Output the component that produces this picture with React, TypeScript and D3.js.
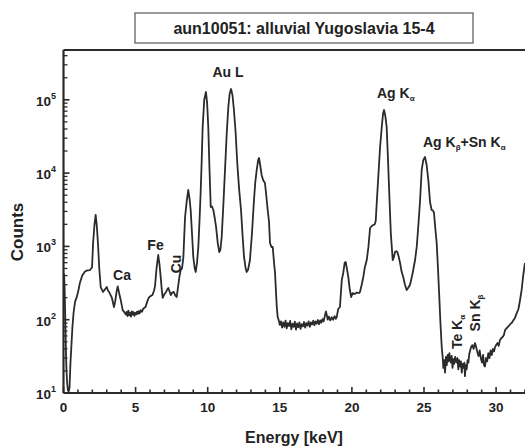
import * as d3 from "d3";

// spectrum: energy in keV, counts
const energy = [
  0.0, 0.04, 0.08, 0.12, 0.16, 0.2, 0.25, 0.3, 0.36, 0.42, 0.48, 0.55, 0.62, 0.7, 0.8, 0.94, 1.05, 1.14, 1.3, 1.49,
  1.65, 1.84, 1.98, 2.05, 2.15, 2.23, 2.31, 2.39, 2.48, 2.58, 2.74, 2.88, 3.0, 3.08, 3.16, 3.25, 3.36, 3.5, 3.58, 3.68,
  3.76, 3.86, 3.97, 4.1, 4.2, 4.26, 4.32, 4.38, 4.44, 4.5, 4.56, 4.62, 4.68, 4.74, 4.8, 4.86, 4.92, 4.98, 5.04, 5.1,
  5.16, 5.22, 5.28, 5.36, 5.44, 5.52, 5.6, 5.69, 5.8, 5.9, 6.03, 6.17, 6.28, 6.35, 6.45, 6.57, 6.66, 6.74, 6.82, 6.88,
  6.98, 7.11, 7.2, 7.27, 7.36, 7.44, 7.54, 7.64, 7.75, 7.85, 7.96, 8.05, 8.13, 8.22, 8.31, 8.43, 8.55, 8.65, 8.74, 8.82,
  8.92, 9.0, 9.1, 9.17, 9.26, 9.35, 9.43, 9.51, 9.58, 9.65, 9.76, 9.88, 9.96, 10.04, 10.12, 10.21, 10.3, 10.39, 10.48, 10.58,
  10.7, 10.8, 10.88, 10.97, 11.08, 11.2, 11.32, 11.43, 11.52, 11.62, 11.72, 11.82, 11.94, 12.05, 12.18, 12.31, 12.42, 12.52, 12.62, 12.7,
  12.8, 12.93, 13.07, 13.21, 13.3, 13.4, 13.5, 13.56, 13.65, 13.74, 13.85, 13.97, 14.06, 14.16, 14.25, 14.32, 14.42, 14.51, 14.6, 14.67,
  14.73, 14.79, 14.85, 14.92, 15.0, 15.08, 15.16, 15.24, 15.32, 15.4, 15.48, 15.56, 15.64, 15.72, 15.8, 15.88, 15.96, 16.04, 16.12, 16.2,
  16.28, 16.36, 16.44, 16.52, 16.6, 16.68, 16.76, 16.84, 16.92, 17.0, 17.08, 17.16, 17.24, 17.32, 17.4, 17.48, 17.56, 17.64, 17.72, 17.8,
  17.88, 17.96, 18.04, 18.12, 18.2, 18.25, 18.32, 18.4, 18.5, 18.6, 18.7, 18.8, 18.88, 18.95, 19.05, 19.17, 19.3, 19.4, 19.5, 19.57,
  19.65, 19.75, 19.85, 19.95, 20.05, 20.2, 20.35, 20.5, 20.56, 20.68, 20.79, 20.9, 21.03, 21.15, 21.26, 21.38, 21.48, 21.58, 21.65, 21.74,
  21.83, 21.95, 22.07, 22.16, 22.23, 22.32, 22.41, 22.5, 22.59, 22.7, 22.83, 22.9, 22.99, 23.07, 23.15, 23.25, 23.34, 23.45, 23.56, 23.68,
  23.8, 23.92, 24.03, 24.2, 24.38, 24.5, 24.6, 24.72, 24.84, 24.95, 25.07, 25.18, 25.3, 25.42, 25.53, 25.61, 25.69, 25.78, 25.88, 25.97,
  26.06, 26.14, 26.23, 26.3, 26.34, 26.4, 26.46, 26.52, 26.58, 26.64, 26.7, 26.76, 26.8, 26.86, 26.92, 26.98, 27.04, 27.1, 27.16, 27.22,
  27.27, 27.32, 27.38, 27.44, 27.5, 27.56, 27.62, 27.68, 27.74, 27.8, 27.84, 27.9, 27.96, 28.02, 28.08, 28.14, 28.2, 28.28, 28.36, 28.44,
  28.54, 28.62, 28.7, 28.78, 28.86, 28.94, 29.02, 29.1, 29.16, 29.23, 29.3, 29.38, 29.46, 29.54, 29.62, 29.7, 29.78, 29.86, 29.92, 30.0,
  30.1, 30.18, 30.27, 30.36, 30.45, 30.54, 30.62, 30.72, 30.82, 30.92, 31.0, 31.08, 31.2, 31.3, 31.43, 31.55, 31.65, 31.77, 31.88, 32.0,
];
const counts = [
  380, 420, 260, 110, 45, 22, 14, 11, 10.5, 12, 25, 45, 80, 125, 175, 210, 260, 320, 400, 455,
  470, 476, 520, 1100, 2000, 2700, 1900, 1100, 500, 279, 239, 260, 279, 250, 239, 220, 198, 149, 175, 240,
  285, 230, 186, 136, 128, 123, 118, 128, 112, 133, 115, 125, 110, 130, 117, 127, 113, 124, 118, 129,
  120, 131, 122, 135, 128, 140, 145, 149, 175, 198, 210, 217, 250, 288, 500, 763, 560, 383, 250, 198,
  220, 239, 260, 271, 240, 217, 235, 239, 215, 204, 297, 400, 476, 500, 700, 2518, 4200, 5880, 4500, 3139,
  1400, 717, 500, 448, 600, 982, 2200, 5350, 14000, 42600, 100000, 127700, 90000, 42600, 12000, 3450, 3500, 3139, 2500, 1840,
  1100, 839, 900, 1343, 3500, 11030, 35000, 79800, 120000, 140400, 115000, 72600, 35000, 13740, 6000, 3139, 1400, 717, 520, 448,
  480, 652, 1500, 4300, 7500, 11030, 15000, 16070, 12500, 9420, 8000, 7330, 5000, 3139, 2200, 1113, 982, 982, 600, 434,
  250, 150, 110, 99, 85, 95, 78, 92, 80, 97, 76, 90, 82, 96, 74, 88, 80, 94, 73, 89,
  79, 92, 75, 87, 81, 93, 78, 90, 83, 95, 80, 92, 86, 97, 84, 95, 88, 99, 87, 98,
  91, 102, 95, 112, 130, 118, 100, 110, 98, 108, 100, 112, 103, 109, 140, 149, 350, 434, 600, 612,
  500, 383, 260, 204, 230, 225, 235, 231, 239, 300, 383, 520, 652, 1000, 1782, 1900, 1959, 2000, 2200, 4500,
  8850, 22000, 42600, 65000, 72600, 60000, 42600, 16000, 5350, 1500, 652, 700, 839, 860, 839, 720, 594, 450, 383, 300,
  254, 275, 300, 420, 652, 1000, 1840, 4000, 11030, 15000, 16600, 13000, 8050, 4000, 3139, 3100, 2900, 1800, 1113, 500,
  204, 90, 42, 30, 22, 28, 19, 31, 24, 33, 27, 35, 30, 26, 32, 22, 29, 25, 31, 27,
  26, 30, 21, 28, 23, 27, 19, 25, 22, 26, 17, 24, 21, 28, 26, 34, 38, 43, 45, 40,
  48, 42, 36, 32, 38, 30, 26, 33, 24, 23, 30, 27, 35, 30, 38, 33, 40, 37, 42, 45,
  48, 44, 53, 56, 58, 62, 72, 76, 80, 84, 88, 90, 98, 105, 123, 140, 180, 254, 400, 594,
];

const xMajorTicks = [0, 5, 10, 15, 20, 25, 30];
const yDecades = [1, 2, 3, 4, 5];

const W = 525;
const H = 446;
const left = 63.5;
const top = 50;
const bottom = 393;
const FONT = "Arial, 'Liberation Sans', sans-serif";
const INK = "#2b2b2b";

export default function App() {
  const x = d3.scaleLinear().domain([0, 32]).range([left, left + 32 * 14.42]);
  const y = d3.scaleLog().domain([10, Math.pow(10, 1 + (bottom - top) / 73.3)]).range([bottom, top]);

  const pts = energy.map((e, i) => [e, counts[i]] as [number, number]);
  const line = d3
    .line<[number, number]>()
    .x((d) => x(d[0]))
    .y((d) => y(Math.max(d[1], 1)));

  const xMinor = d3.range(0, 33, 1).filter((v) => !xMajorTicks.includes(v));
  const yMinor: number[] = [];
  yDecades.forEach((p) => {
    for (let m = 2; m <= 9; m++) {
      const v = m * Math.pow(10, p);
      if (v <= y.domain()[1]) yMinor.push(v);
    }
  });

  return (
    <svg width={W} height={H} style={{ position: "absolute", left: 0, top: 0, background: "#fff" }} fontFamily={FONT}>
      <defs>
        <clipPath id="plot">
          <rect x={left} y={top} width={W - left} height={bottom - top} />
        </clipPath>
      </defs>

      {/* title box */}
      <rect x={135} y={13} width={338} height={30} fill="#fff" stroke="#555" strokeWidth={1.2} />
      <text x={304} y={34} textAnchor="middle" fontSize={16} fontWeight="bold" fill="#222">
        aun10051: alluvial Yugoslavia 15-4
      </text>

      {/* spectrum */}
      <path d={line(pts) ?? ""} fill="none" stroke={INK} strokeWidth={1.8} clipPath="url(#plot)" strokeLinejoin="round" />

      {/* frame */}
      <line x1={left} x2={W} y1={top} y2={top} stroke={INK} strokeWidth={2.2} />
      <line x1={left} x2={left} y1={top} y2={bottom} stroke={INK} strokeWidth={2.2} />
      <line x1={left} x2={W} y1={bottom} y2={bottom} stroke={INK} strokeWidth={2.2} />

      {/* x ticks */}
      {xMajorTicks.map((t) => (
        <g key={"xm" + t}>
          <line x1={x(t)} x2={x(t)} y1={bottom} y2={bottom - 6} stroke={INK} strokeWidth={1.6} />
          <text x={x(t)} y={412} textAnchor="middle" fontSize={13.5} fontWeight="bold" fill="#222">
            {t}
          </text>
        </g>
      ))}
      {xMinor.map((t) => (
        <line key={"xn" + t} x1={x(t)} x2={x(t)} y1={bottom} y2={bottom - 3.5} stroke={INK} strokeWidth={1.6} />
      ))}

      {/* y ticks */}
      {yDecades.map((p) => (
        <g key={"yd" + p}>
          <line x1={left} x2={left + 6} y1={y(Math.pow(10, p))} y2={y(Math.pow(10, p))} stroke={INK} strokeWidth={1.6} />
          <text x={56} y={y(Math.pow(10, p)) + 6} textAnchor="end" fontSize={13.5} fontWeight="bold" fill="#222">
            10
            <tspan dy={-7} fontSize={9}>
              {p}
            </tspan>
          </text>
        </g>
      ))}
      {yMinor.map((v) => (
        <line key={"yn" + v} x1={left} x2={left + 4} y1={y(v)} y2={y(v)} stroke={INK} strokeWidth={1.3} />
      ))}

      {/* axis titles */}
      <text transform="translate(23,232) rotate(-90)" textAnchor="middle" fontSize={17} fontWeight="bold" fill="#222">
        Counts
      </text>
      <text x={294} y={443} textAnchor="middle" fontSize={16} fontWeight="bold" fill="#222">
        Energy [keV]
      </text>

      {/* peak annotations */}
      <g fontSize={14} fontWeight="bold" fill="#222">
        <text x={228} y={77} textAnchor="middle">Au L</text>
        <text x={377} y={98}>
          Ag K<tspan dy={3} fontSize={8}>α</tspan>
        </text>
        <text x={423} y={147}>
          Ag K<tspan dy={3} fontSize={8}>β</tspan>
          <tspan dy={-3}>+Sn K</tspan>
          <tspan dy={3} fontSize={8}>α</tspan>
        </text>
        <text x={122} y={280} textAnchor="middle">Ca</text>
        <text x={155.5} y={250} textAnchor="middle">Fe</text>
        <text transform="translate(181,264) rotate(-90)" textAnchor="middle">Cu</text>
        <text transform="translate(462,332) rotate(-90)" textAnchor="middle">
          Te K<tspan dy={3} fontSize={8}>α</tspan>
        </text>
        <text transform="translate(480,313) rotate(-90)" textAnchor="middle">
          Sn K<tspan dy={3} fontSize={8}>β</tspan>
        </text>
      </g>
    </svg>
  );
}
